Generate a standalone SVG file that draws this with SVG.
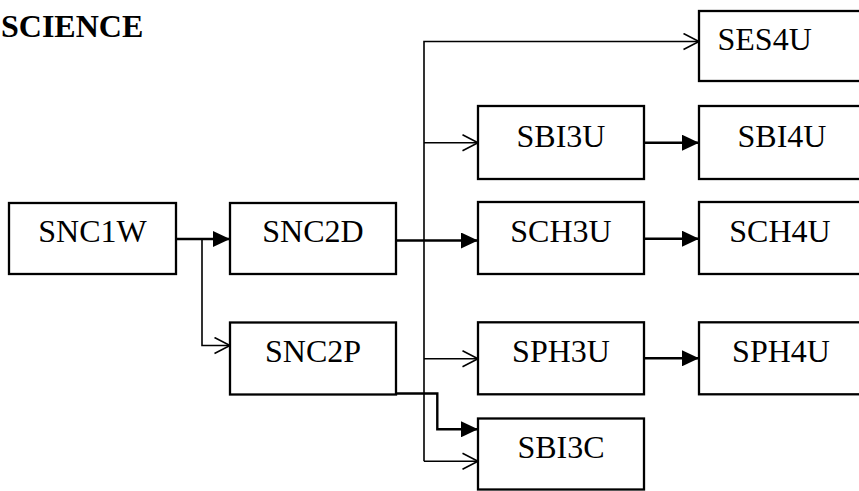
<svg xmlns="http://www.w3.org/2000/svg" width="859" height="491" viewBox="0 0 859 491">
<style>
  .box { fill: #fff; stroke: #000; stroke-width: 2.3; }
  .lbl { font-family: "Liberation Serif", "Times New Roman", serif; font-size: 32px; fill: #000; text-anchor: middle; }
  .title { font-family: "Liberation Serif", "Times New Roman", serif; font-size: 32px; font-weight: bold; fill: #000; }
  .thick { fill: none; stroke: #000; stroke-width: 2.4; }
  .thin { fill: none; stroke: #000; stroke-width: 1.6; }
</style>
<defs>
  <marker id="filled" markerUnits="userSpaceOnUse" markerWidth="17" markerHeight="16" refX="17" refY="8" orient="auto">
    <path d="M0,0 L17,8 L0,16 z" fill="#000"/>
  </marker>
  <marker id="open" markerUnits="userSpaceOnUse" markerWidth="18" markerHeight="18" refX="16.5" refY="9" orient="auto">
    <path d="M1,1 L16.5,9 L1,17" fill="none" stroke="#000" stroke-width="1.6"/>
  </marker>
</defs>
<rect width="859" height="491" fill="#fff"/>
<text class="title" x="1" y="37">SCIENCE</text>

<g id="connectors">
  <path class="thick" d="M176,239 H230" marker-end="url(#filled)"/>
  <path class="thin" d="M202,239 V345.5 H230" marker-end="url(#open)"/>
  <path class="thick" d="M396,240.5 H478" marker-end="url(#filled)"/>
  <path class="thin" d="M424,461.3 V41.5 H699" marker-end="url(#open)"/>
  <path class="thin" d="M424,142.7 H478" marker-end="url(#open)"/>
  <path class="thin" d="M424,358.7 H478" marker-end="url(#open)"/>
  <path class="thin" d="M424,461.3 H478" marker-end="url(#open)"/>
  <path class="thick" d="M644,142.7 H699" marker-end="url(#filled)"/>
  <path class="thick" d="M644,238.7 H699" marker-end="url(#filled)"/>
  <path class="thick" d="M644,358.3 H699" marker-end="url(#filled)"/>
  <path class="thick" d="M396,393.5 H437.3 V429.3 H478" marker-end="url(#filled)"/>
</g>

<g id="SNC1W"><rect class="box" x="9" y="203" width="167" height="71"/><text class="lbl" x="92.5" y="242">SNC1W</text></g>
<g id="SNC2D"><rect class="box" x="230" y="203" width="166" height="71"/><text class="lbl" x="313" y="242">SNC2D</text></g>
<g id="SNC2P"><rect class="box" x="230" y="322.5" width="166" height="72"/><text class="lbl" x="313" y="362">SNC2P</text></g>
<g id="SES4U"><rect class="box" x="699" y="11" width="167" height="70"/><text class="lbl" x="717.5" y="50" style="text-anchor:start">SES4U</text></g>
<g id="SBI3U"><rect class="box" x="478" y="106" width="166" height="73"/><text class="lbl" x="561" y="146.5">SBI3U</text></g>
<g id="SBI4U"><rect class="box" x="699" y="106" width="167" height="73"/><text class="lbl" x="782" y="146.5">SBI4U</text></g>
<g id="SCH3U"><rect class="box" x="478" y="202" width="166" height="72"/><text class="lbl" x="561" y="241.5">SCH3U</text></g>
<g id="SCH4U"><rect class="box" x="699" y="202" width="167" height="72"/><text class="lbl" x="780" y="241.5">SCH4U</text></g>
<g id="SPH3U"><rect class="box" x="478" y="322.3" width="166" height="72"/><text class="lbl" x="561" y="362">SPH3U</text></g>
<g id="SPH4U"><rect class="box" x="699" y="322.3" width="167" height="72"/><text class="lbl" x="781" y="362">SPH4U</text></g>
<g id="SBI3C"><rect class="box" x="478" y="418.5" width="166" height="71"/><text class="lbl" x="561" y="458.3">SBI3C</text></g>
</svg>
